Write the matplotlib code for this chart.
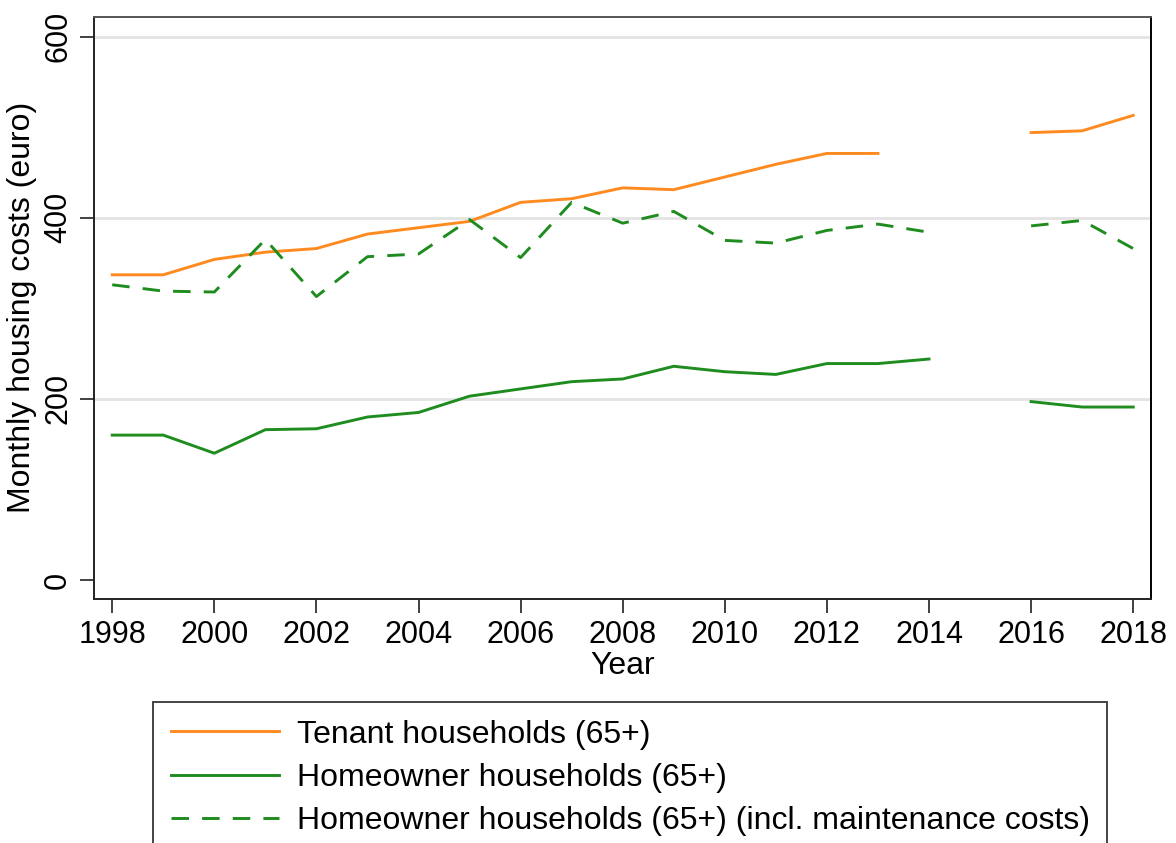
import numpy as np
import matplotlib
matplotlib.use("Agg")
import matplotlib.pyplot as plt

plt.rcParams['font.family'] = ['Liberation Sans', 'DejaVu Sans']

# data (nan = no survey value)
years = [1998, 1999, 2000, 2001, 2002, 2003, 2004, 2005, 2006, 2007, 2008,
         2009, 2010, 2011, 2012, 2013, 2014, 2015, 2016, 2017, 2018]
tenant = [337, 337, 354, 362, 366, 382, 389, 396, 417, 421, 433,
          431, 445, 459, 471, 471, np.nan, np.nan, 494, 496, 513]
owner = [160, 160, 140, 166, 167, 180, 185, 203, 211, 219, 222,
         236, 230, 227, 239, 239, 244, np.nan, 197, 191, 191]
owner_maint = [326, 319, 318, 376, 313, 357, 360, 398, 356, 417, 394,
               407, 375, 372, 386, 393, 384, np.nan, 391, 397, 366]

x_ticks = [1998, 2000, 2002, 2004, 2006, 2008, 2010, 2012, 2014, 2016, 2018]
y_ticks = [0, 200, 400, 600]

orange = '#ff8a1f'
green = '#1f8c1f'
tick_fs = 22
label_fs = 23

fig = plt.figure(figsize=(11.76, 8.43), dpi=100)
ax = fig.add_axes([0.0798, 0.2894, 0.8990, 0.6908])

for y in [200, 400, 600]:
    ax.axhline(y, color='#e3e3e3', linewidth=2, zorder=0)

ax.plot(years, tenant, color=orange, linewidth=2.1, label='Tenant households (65+)')
ax.plot(years, owner, color=green, linewidth=2.1, label='Homeowner households (65+)')
ax.plot(years, owner_maint, color=green, linewidth=2.1, dashes=(6, 4.5),
        label='Homeowner households (65+) (incl. maintenance costs)')

ax.set_xlim(1997.64, 2018.35)
ax.set_ylim(-21, 622)
ax.set_xticks(x_ticks)
ax.set_yticks(y_ticks)
ax.tick_params(axis='both', direction='out', length=10, width=1.3, colors='#333333',
               labelcolor='black', labelsize=tick_fs, pad=5)
for lbl in ax.get_yticklabels():
    lbl.set_rotation(90)
    lbl.set_va('center')
ax.set_xlabel('Year', fontsize=label_fs, labelpad=1)
ax.set_ylabel('Monthly housing costs (euro)', fontsize=label_fs, labelpad=4)
for side in ['left', 'bottom', 'top', 'right']:
    ax.spines[side].set_linewidth(1.4)
ax.spines['top'].set_color('#555555')
ax.spines['left'].set_color('#222222')
ax.spines['bottom'].set_color('#222222')
ax.spines['right'].set_color('black')

handles, labels = ax.get_legend_handles_labels()
leg = fig.legend(handles, labels, loc='upper left', bbox_to_anchor=(153 / 1176, 1 - 702 / 843),
                 borderaxespad=0, fontsize=label_fs, handlelength=3.4, handletextpad=0.55,
                 labelspacing=0.42, borderpad=0.55, fancybox=False, framealpha=1)
leg.get_frame().set_edgecolor('#444444')
leg.get_frame().set_linewidth(1.4)

plt.savefig('out.png', dpi=100)
